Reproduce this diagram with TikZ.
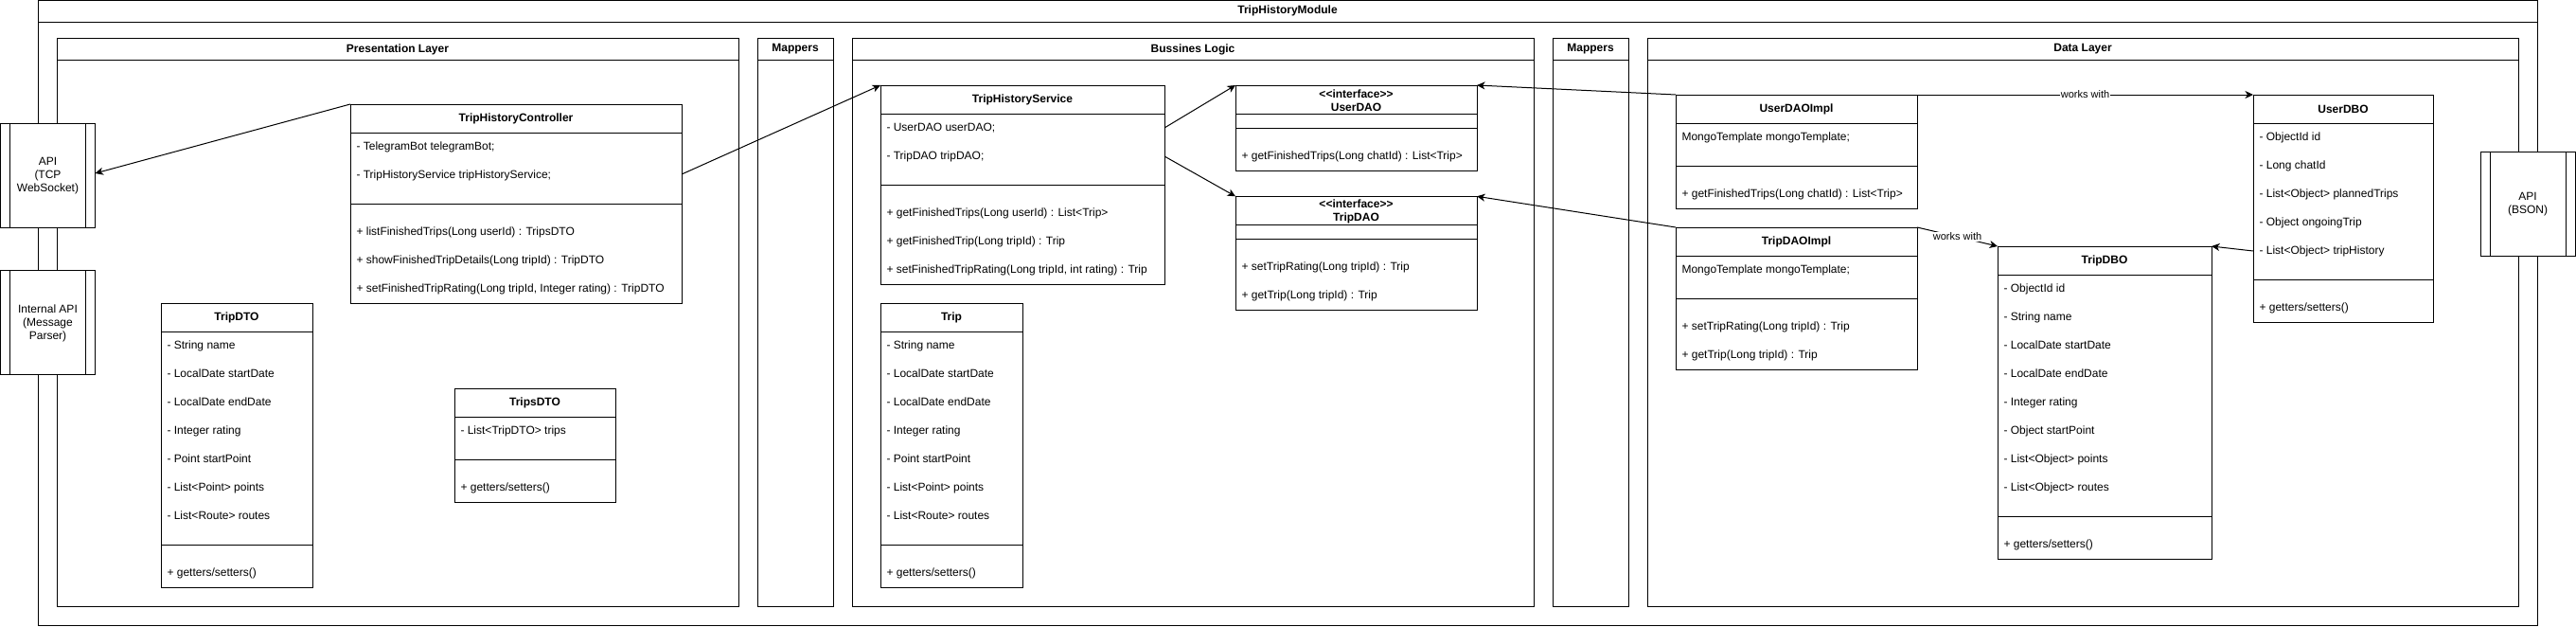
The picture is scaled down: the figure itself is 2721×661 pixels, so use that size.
\documentclass[tikz,border=0pt]{standalone}
\usepackage{fontspec}
\setmainfont{Liberation Sans}[Ligatures=TeXOff]
\usetikzlibrary{arrows.meta,calc}
\newcommand\crows[4]{\foreach \t [count=\i] in {#4}{\node[rowtxt] (#1-\i) at ({#2},{#3+30*(\i-1)}) {\t};}}
\begin{document}
\begin{tikzpicture}[x=1pt,y=-1pt,line width=1pt,
  box/.style={draw,fill=white,inner sep=0pt,outer sep=0pt,anchor=north west},
  ttl/.style={font=\fontsize{12}{14}\selectfont\bfseries,inner sep=0pt,align=center},
  rowtxt/.style={font=\fontsize{12}{14}\selectfont,inner sep=0pt,anchor=west,text height=9pt,text depth=3pt},
  apitxt/.style={font=\fontsize{12}{14}\selectfont,inner sep=0pt,align=center},
  arr/.style={-{Stealth[length=8.5pt,width=8pt,inset=2.5pt]}},
  lbl/.style={font=\fontsize{11}{13}\selectfont,fill=white,inner sep=1pt}]
\useasboundingbox (0,0) rectangle (2721,661);
% ---------- containers ----------
\node[box,minimum width=2640pt,minimum height=659.5pt] (mod) at (40,0.5) {};
\draw (40,23.3) -- (2680,23.3);
\node[ttl] (mod-t) at (1360,11.8) {TripHistoryModule};
\node[box,minimum width=720pt,minimum height=600pt] (pres) at (60,40.5) {};
\draw (60,63.3) -- (780,63.3);
\node[ttl] (pres-t) at (420,52) {Presentation Layer};
\node[box,minimum width=80pt,minimum height=600pt] (map1) at (800,40.5) {};
\draw (800,63.3) -- (880,63.3);
\node[ttl] (map1-t) at (840,52) {Mappers};
\node[box,minimum width=720pt,minimum height=600pt] (bl) at (900,40.5) {};
\draw (900,63.3) -- (1620,63.3);
\node[ttl] (bl-t) at (1260,52) {Bussines Logic};
\node[box,minimum width=80pt,minimum height=600pt] (map2) at (1640,40.5) {};
\draw (1640,63.3) -- (1720,63.3);
\node[ttl] (map2-t) at (1680,52) {Mappers};
\node[box,minimum width=920pt,minimum height=600pt] (dl) at (1740,40.5) {};
\draw (1740,63.3) -- (2660,63.3);
\node[ttl] (dl-t) at (2200,52) {Data Layer};
% ---------- Presentation layer ----------
\node[box,minimum width=350pt,minimum height=210pt] (ctrl) at (370,110) {};
\draw (370,140) -- (720,140); \draw (370,215) -- (720,215);
\node[ttl] (ctrl-t) at (545,125) {TripHistoryController};
\crows{ctrla}{376}{155}{- TelegramBot telegramBot;,- TripHistoryService tripHistoryService;}
\crows{ctrlm}{376}{245}{+ listFinishedTrips(Long userId) : TripsDTO,+ showFinishedTripDetails(Long tripId) : TripDTO,{+ setFinishedTripRating(Long tripId, Integer rating) : TripDTO}}

\node[box,minimum width=160pt,minimum height=300pt] (tripdto) at (170,320) {};
\draw (170,350) -- (330,350); \draw (170,575) -- (330,575);
\node[ttl] (tripdto-t) at (250,335) {TripDTO};
\crows{tripdtoa}{176}{365}{- String name,- LocalDate startDate,- LocalDate endDate,- Integer rating,- Point startPoint,- List<Point> points,- List<Route> routes}
\crows{tripdtom}{176}{605}{+ getters/setters()}

\node[box,minimum width=170pt,minimum height=120pt] (tripsdto) at (480,410) {};
\draw (480,440) -- (650,440); \draw (480,485) -- (650,485);
\node[ttl] (tripsdto-t) at (565,425) {TripsDTO};
\crows{tripsdtoa}{486}{455}{- List<TripDTO> trips}
\crows{tripsdtom}{486}{515}{+ getters/setters()}
% ---------- Business logic ----------
\node[box,minimum width=300pt,minimum height=210pt] (tss) at (930,90) {};
\draw (930,120) -- (1230,120); \draw (930,195) -- (1230,195);
\node[ttl] (tss-t) at (1080,105) {TripHistoryService};
\crows{tssa}{936}{135}{- UserDAO userDAO;,- TripDAO tripDAO;}
\crows{tssm}{936}{225}{+ getFinishedTrips(Long userId) : List<Trip>,+ getFinishedTrip(Long tripId) : Trip,{+ setFinishedTripRating(Long tripId, int rating) : Trip}}

\node[box,minimum width=150pt,minimum height=300pt] (trip) at (930,320) {};
\draw (930,350) -- (1080,350); \draw (930,575) -- (1080,575);
\node[ttl] (trip-t) at (1005,335) {Trip};
\crows{tripa}{936}{365}{- String name,- LocalDate startDate,- LocalDate endDate,- Integer rating,- Point startPoint,- List<Point> points,- List<Route> routes}
\crows{tripm}{936}{605}{+ getters/setters()}

\node[box,minimum width=255pt,minimum height=90pt] (userdao) at (1305,90) {};
\draw (1305,120.3) -- (1560,120.3); \draw (1305,135.3) -- (1560,135.3);
\node[ttl] (userdao-t) at (1432.5,106.5) {<<interface>>\\UserDAO};
\crows{userdaom}{1311}{165.5}{+ getFinishedTrips(Long chatId) : List<Trip>}

\node[box,minimum width=255pt,minimum height=120pt] (tripdao) at (1305,207.3) {};
\draw (1305,237.3) -- (1560,237.3); \draw (1305,252.3) -- (1560,252.3);
\node[ttl] (tripdao-t) at (1432.5,223.5) {<<interface>>\\TripDAO};
\crows{tripdaom}{1311}{282.5}{+ setTripRating(Long tripId) : Trip,+ getTrip(Long tripId) : Trip}
% ---------- Data layer ----------
\node[box,minimum width=255pt,minimum height=120pt] (udaoimpl) at (1770,100) {};
\draw (1770,130) -- (2025,130); \draw (1770,175) -- (2025,175);
\node[ttl] (udaoimpl-t) at (1897.5,115) {UserDAOImpl};
\crows{udaoimpla}{1776}{145.5}{MongoTemplate mongoTemplate;}
\crows{udaoimplm}{1776}{205.5}{+ getFinishedTrips(Long chatId) : List<Trip>}

\node[box,minimum width=255pt,minimum height=150pt] (tdaoimpl) at (1770,240) {};
\draw (1770,270) -- (2025,270); \draw (1770,315) -- (2025,315);
\node[ttl] (tdaoimpl-t) at (1897.5,255) {TripDAOImpl};
\crows{tdaoimpla}{1776}{285.5}{MongoTemplate mongoTemplate;}
\crows{tdaoimplm}{1776}{345.5}{+ setTripRating(Long tripId) : Trip,+ getTrip(Long tripId) : Trip}

\node[box,minimum width=190pt,minimum height=240pt] (udbo) at (2380,100) {};
\draw (2380,130) -- (2570,130); \draw (2380,295) -- (2570,295);
\node[ttl] (udbo-t) at (2475,115) {UserDBO};
\crows{udboa}{2386}{145.5}{- ObjectId id,- Long chatId,- List<Object> plannedTrips,- Object ongoingTrip,- List<Object> tripHistory}
\crows{udbom}{2386}{325.5}{+ getters/setters()}

\node[box,minimum width=226pt,minimum height=330pt] (tdbo) at (2110,260) {};
\draw (2110,290) -- (2336,290); \draw (2110,545) -- (2336,545);
\node[ttl] (tdbo-t) at (2223,275) {TripDBO};
\crows{tdboa}{2116}{305.5}{- ObjectId id,- String name,- LocalDate startDate,- LocalDate endDate,- Integer rating,- Object startPoint,- List<Object> points,- List<Object> routes}
\crows{tdbom}{2116}{575.5}{+ getters/setters()}
% ---------- external APIs ----------
\node[box,minimum width=100pt,minimum height=110pt] (apitcp) at (0.5,130) {};
\draw (10.5,130) -- (10.5,240); \draw (90.5,130) -- (90.5,240);
\node[apitxt] (apitcp-t) at (50.5,186) {API\\(TCP\\WebSocket)};
\node[box,minimum width=100pt,minimum height=110pt] (apiint) at (0.5,285.5) {};
\draw (10.5,285.5) -- (10.5,395.5); \draw (90.5,285.5) -- (90.5,395.5);
\node[apitxt] (apiint-t) at (50.5,341) {Internal API\\(Message\\Parser)};
\node[box,minimum width=100pt,minimum height=110pt] (apibson) at (2620,160.3) {};
\draw (2630,160.3) -- (2630,270.3); \draw (2710,160.3) -- (2710,270.3);
\node[apitxt] (apibson-t) at (2670,216) {API\\(BSON)};
% ---------- connectors ----------
\draw[arr] (ctrl.north west) -- ([yshift=2pt]apitcp.east);
\draw[arr] ([yshift=-74pt]ctrl.north east) -- (tss.north west);
\draw[arr] ([yshift=-45pt]tss.north east) -- (userdao.north west);
\draw[arr] ([yshift=-75pt]tss.north east) -- (tripdao.north west);
\draw[arr] (udaoimpl.north west) -- (userdao.north east);
\draw[arr] (tdaoimpl.north west) -- (tripdao.north east);
\draw[arr] (udaoimpl.north east) -- node[lbl] (lbl1) {works with} (udbo.north west);
\draw[arr] (tdaoimpl.north east) -- node[lbl] (lbl2) {works with} (tdbo.north west);
\draw[arr] ([yshift=-165pt]udbo.north west) -- (tdbo.north east);
\end{tikzpicture}
\end{document}
